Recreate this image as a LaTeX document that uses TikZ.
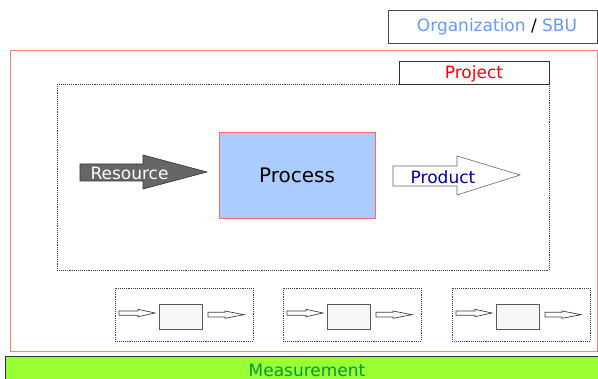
\documentclass[tikz,border=0pt]{standalone}
\usepackage{fontspec}
\setmainfont{DejaVu Sans}
\begin{document}
\begin{tikzpicture}[x=1pt,y=-1pt,
  lbl/.style={inner sep=0pt,font=\fontsize{17}{17}\selectfont},
  rectbox/.style={draw,inner sep=0pt,anchor=north west},
  dotbox/.style={draw=black!75,densely dotted,line width=0.9pt},
  tinyarrow/.style={draw=black!75,fill=white,line width=0.7pt}]
\definecolor{orgblue}{HTML}{6699FF}
\definecolor{procfill}{HTML}{AACCFF}
\definecolor{procline}{HTML}{FF6677}
\definecolor{outred}{HTML}{FF8080}
\definecolor{prodblue}{HTML}{000099}
\definecolor{measfill}{HTML}{99FF33}
\definecolor{meastext}{HTML}{009944}
\useasboundingbox (0,0) rectangle (598,379);
% Organization / SBU
\node[rectbox,draw=black!70,minimum width=209pt,minimum height=33pt] (org) at (388,10) {};
\node[lbl] (orgt) at (497,27) {\textcolor{orgblue}{Organization} / \textcolor{orgblue}{SBU}};
% outer red frame
\draw[outred,line width=0.8pt] (10,50) rectangle (597.5,351.5);
% dotted project area
\draw[dotbox] (57,84) rectangle (549,270);
\node[rectbox,draw=black!80,minimum width=150pt,minimum height=23pt] (proj) at (399,61) {};
\node[lbl,text=red] (projt) at (474,74) {Project};
% Process
\node[draw=procline,fill=procfill,line width=0.8pt,minimum width=156pt,minimum height=86pt,inner sep=0pt,font=\fontsize{20}{20}\selectfont] (proc) at (297,175) {Process};
% Resource arrow
\draw[fill=black!60,draw=black!80,line width=0.6pt] (80,164) -- (143,164) -- (143,155) -- (207,172) -- (143,189) -- (143,181) -- (80,181) -- cycle;
\node[lbl,text=white] (res) at (129.5,173) {Resource};
% Product arrow
\draw[fill=white,draw=black!60,line width=0.6pt] (393,166) -- (457,166) -- (457,156) -- (520,175) -- (457,195) -- (457,186) -- (393,186) -- cycle;
\node[lbl,text=prodblue] (prod) at (443,177) {Product};
% small boxes
\foreach \L/\i in {115/1,283/2,452/3}{
  \draw[dotbox] (\L,288) rectangle (\L+138,341);
  \node[rectbox,draw=black!65,fill=black!3,minimum width=43pt,minimum height=25pt,line width=0.9pt] (sub\i) at (\L+44,304) {};
  \draw[tinyarrow] (\L+4,311) -- (\L+23,311) -- (\L+23,309.3) -- (\L+40,313) -- (\L+23,316.7) -- (\L+23,315.3) -- (\L+4,315.3) -- cycle;
  \draw[tinyarrow] (\L+93,312.3) -- (\L+110,312.3) -- (\L+110,311) -- (\L+129,314.7) -- (\L+110,318.3) -- (\L+110,317) -- (\L+93,317) -- cycle;
}
% Measurement bar
\node[rectbox,draw=black!80,fill=measfill,minimum width=594pt,minimum height=24pt,line width=0.8pt] (meas) at (5,356.5) {};
\node[lbl,text=meastext] (meast) at (307,370) {Measurement};
\end{tikzpicture}
\end{document}
